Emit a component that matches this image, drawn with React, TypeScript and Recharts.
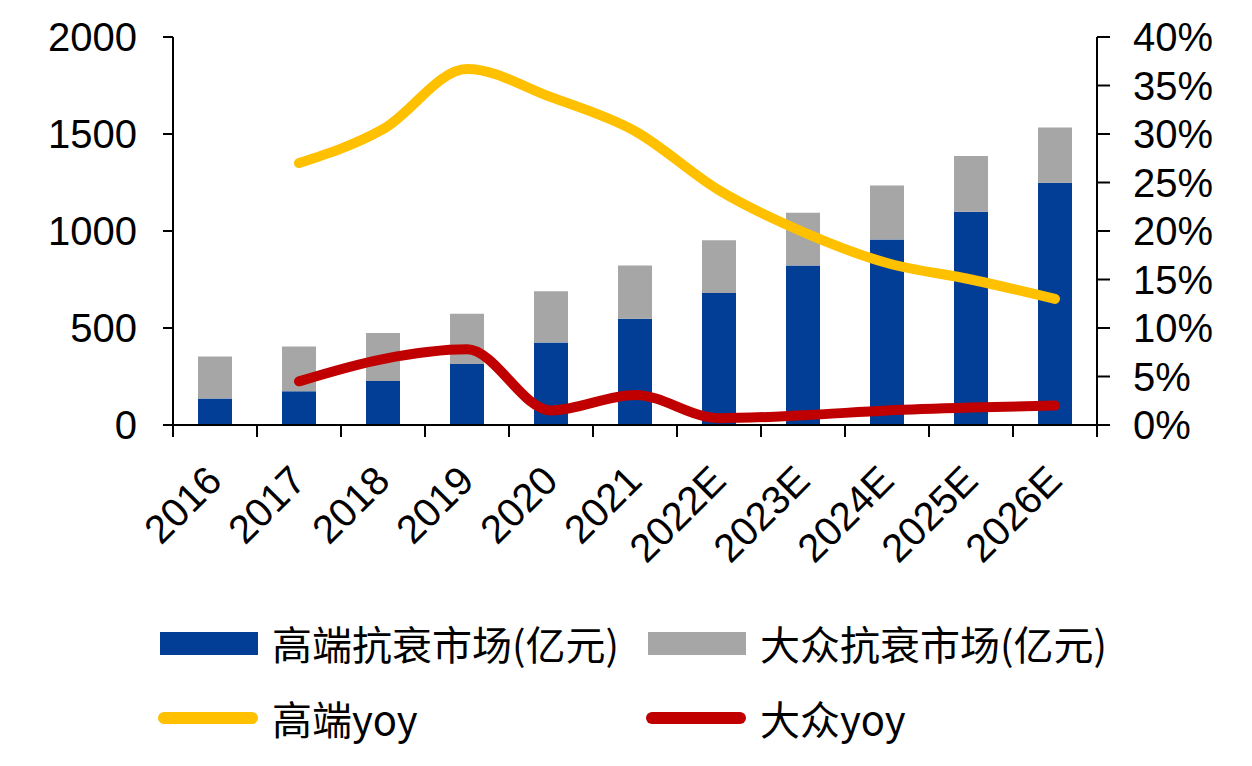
import { ComposedChart, Bar, Line, XAxis, YAxis, Legend } from 'recharts'

const years = ['2016', '2017', '2018', '2019', '2020', '2021', '2022E', '2023E', '2024E', '2025E', '2026E']
const highEnd = [136, 174, 227, 315, 425, 548, 680, 822, 956, 1099, 1249]
const massMkt = [217, 231, 247, 259, 264, 274, 272, 272, 279, 288, 284]
const highYoy = [null, 0.27, 0.305, 0.367, 0.338, 0.303, 0.242, 0.199, 0.167, 0.15, 0.13]
const massYoy = [null, 0.045, 0.068, 0.078, 0.015, 0.031, 0.007, 0.01, 0.015, 0.018, 0.02]
const leftTicks = [0, 500, 1000, 1500, 2000]
const rightTicks = [0, 0.05, 0.1, 0.15, 0.2, 0.25, 0.3, 0.35, 0.4]

const data = years.map((year, i) => ({
  year,
  high: highEnd[i],
  mass: massMkt[i],
  highYoy: highYoy[i],
  massYoy: massYoy[i],
}))

const W = 1252
const H = 766
const LEFT_W = 173
const RIGHT_W = 155
const LEGEND_H = 156
const X_AXIS_H = 185
const HALF_BAND = (W - LEFT_W - RIGHT_W) / years.length / 2

const axisFont = '"Liberation Sans", Arial, Helvetica, sans-serif'
const cjkFont = '"Noto Sans CJK SC", "Liberation Sans", sans-serif'

const names: Record<string, string> = {
  high: '高端抗衰市场(亿元)',
  mass: '大众抗衰市场(亿元)',
  highYoy: '高端yoy',
  massYoy: '大众yoy',
}
const colors: Record<string, string> = {
  high: '#023e96',
  mass: '#a6a6a6',
  highYoy: '#ffc000',
  massYoy: '#c00000',
}
const legendPos: Record<string, { left: number; top: number }> = {
  high: { left: 160, top: 33 },
  mass: { left: 648, top: 33 },
  highYoy: { left: 158, top: 108 },
  massYoy: { left: 646, top: 108 },
}

function XTick(props: any) {
  const { x, y, payload, index } = props
  const last = index === years.length - 1
  const tx = x + 9
  const ty = y + 58
  return (
    <g>
      <line x1={x - HALF_BAND} x2={x - HALF_BAND} y1={y} y2={y + 12} stroke="#000" strokeWidth={2} />
      {last && <line x1={x + HALF_BAND} x2={x + HALF_BAND} y1={y} y2={y + 12} stroke="#000" strokeWidth={2} />}
      <text
        x={tx}
        y={ty}
        textAnchor="end"
        transform={`rotate(-45, ${tx}, ${ty})`}
        fontSize={40}
        fontFamily={axisFont}
        fill="#000"
      >
        {payload.value}
      </text>
    </g>
  )
}

function LegendBox() {
  const keys = ['high', 'mass', 'highYoy', 'massYoy']
  return (
    <div style={{ position: 'relative', width: W, height: LEGEND_H }}>
      {keys.map(k => {
        const isLine = k.endsWith('Yoy')
        const pos = legendPos[k]
        return (
          <div key={k} style={{ position: 'absolute', left: pos.left, top: pos.top - 25, height: 50, display: 'flex', alignItems: 'center' }}>
            {isLine ? (
              <div style={{ width: 100, height: 12, borderRadius: 6, background: colors[k] }} />
            ) : (
              <div style={{ width: 98, height: 23, background: colors[k] }} />
            )}
            <span style={{ marginLeft: 14, fontFamily: cjkFont, fontSize: 40, color: '#000', lineHeight: '50px', whiteSpace: 'nowrap' }}>
              {names[k]}
            </span>
          </div>
        )
      })}
    </div>
  )
}

export default function App() {
  return (
    <div style={{ margin: -8, width: W, height: H, background: '#fff' }}>
      <ComposedChart width={W} height={H} data={data} margin={{ top: 37, right: 0, bottom: 0, left: 0 }} barSize={34}>
        <XAxis
          dataKey="year"
          interval={0}
          height={X_AXIS_H}
          tickLine={false}
          tickSize={0}
          tickMargin={0}
          tick={<XTick />}
          axisLine={{ stroke: '#000', strokeWidth: 2 }}
        />
        <YAxis
          yAxisId="left"
          orientation="left"
          width={LEFT_W}
          domain={[0, 2000]}
          ticks={leftTicks}
          interval={0}
          tickSize={10}
          tickMargin={26}
          axisLine={{ stroke: '#000', strokeWidth: 2 }}
          tickLine={{ stroke: '#000', strokeWidth: 2 }}
          tick={{ fontSize: 40, fill: '#000', fontFamily: axisFont }}
        />
        <YAxis
          yAxisId="right"
          orientation="right"
          width={RIGHT_W}
          domain={[0, 0.4]}
          ticks={rightTicks}
          interval={0}
          tickSize={13}
          tickMargin={23}
          tickFormatter={v => `${Math.round(v * 100)}%`}
          axisLine={{ stroke: '#000', strokeWidth: 2 }}
          tickLine={{ stroke: '#000', strokeWidth: 2 }}
          tick={{ fontSize: 40, fill: '#000', fontFamily: axisFont }}
        />
        <Legend verticalAlign="bottom" height={LEGEND_H} content={<LegendBox />} />
        <Bar yAxisId="left" dataKey="high" stackId="a" fill={colors.high} name={names.high} isAnimationActive={false} />
        <Bar yAxisId="left" dataKey="mass" stackId="a" fill={colors.mass} name={names.mass} isAnimationActive={false} />
        <Line
          yAxisId="right"
          dataKey="highYoy"
          type="monotone"
          stroke={colors.highYoy}
          strokeWidth={10}
          strokeLinecap="round"
          dot={false}
          name={names.highYoy}
          isAnimationActive={false}
        />
        <Line
          yAxisId="right"
          dataKey="massYoy"
          type="monotone"
          stroke={colors.massYoy}
          strokeWidth={10}
          strokeLinecap="round"
          dot={false}
          name={names.massYoy}
          isAnimationActive={false}
        />
      </ComposedChart>
    </div>
  )
}
